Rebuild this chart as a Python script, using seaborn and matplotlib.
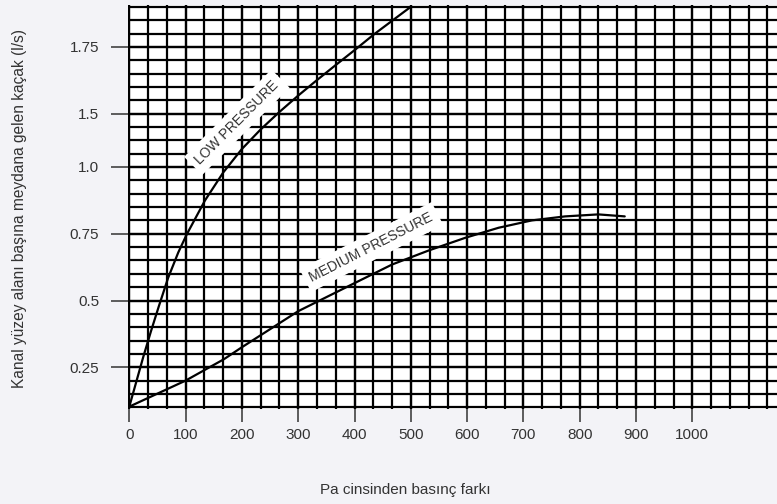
import numpy as np
import pandas as pd
import matplotlib
matplotlib.use("Agg")
import matplotlib.pyplot as plt
import seaborn as sns

# ---- data (x in Pa, y in chart grid-row units) ----
low_x = [0, 13, 25, 38.5, 52.7, 69, 87, 102, 134.5, 167, 200, 233, 266, 300, 333, 367, 400, 435, 473, 500]
low_y = [0.05, 2.0, 3.8, 5.7, 7.6, 9.7, 11.6, 12.95, 15.5, 17.6, 19.35, 20.8, 22.1, 23.35, 24.5, 25.65, 26.75, 27.95, 29.15, 30.0]
med_x = [0, 100, 168, 200, 300, 400, 467, 532, 597, 656, 715, 774, 833, 880]
med_y = [0.05, 2.0, 3.6, 4.5, 7.2, 9.3, 10.7, 11.75, 12.7, 13.45, 14.0, 14.3, 14.45, 14.3]

x_ticks = [0, 100, 200, 300, 400, 500, 600, 700, 800, 900, 1000]
y_tick_pos = [3, 8, 13, 18, 22, 27]
y_tick_labels = ["0.25", "0.5", "0.75", "1.0", "1.5", "1.75"]
series_names = ["LOW PRESSURE", "MEDIUM PRESSURE"]
x_label = "Pa cinsinden basınç farkı"
y_label = "Kanal yüzey alanı başına meydana gelen kaçak (l/s)"

df = pd.concat([
    pd.DataFrame({"x": low_x, "y": low_y, "s": series_names[0]}),
    pd.DataFrame({"x": med_x, "y": med_y, "s": series_names[1]}),
])

sns.set_theme(style="white")
plt.rcParams["font.family"] = ["Liberation Sans", "DejaVu Sans"]

W, H = 777, 504
bg = "#f3f3f7"
txt = "#333333"
fig = plt.figure(figsize=(W / 100, H / 100), dpi=100, facecolor=bg)

x0px, pxu = 129.3, 0.563     # pixel of x=0, pixels per Pa
y0px, pxr = 407.3, 13.35     # pixel of row 0, pixels per row
xlim = (-2, (W - x0px) / pxu)
ylim = (-0.12, 30.12)
left = (x0px + xlim[0] * pxu) / W
bottom = 1 - (y0px - ylim[0] * pxr) / H
top = 1 - (y0px - ylim[1] * pxr) / H
ax = fig.add_axes([left, bottom, 1.0 - left, top - bottom])
ax.set_facecolor("white")

sns.lineplot(data=df, x="x", y="y", units="s", estimator=None, sort=False,
             color="black", lw=1.6, ax=ax, zorder=6)

ax.set_xlim(*xlim)
ax.set_ylim(*ylim)
ax.set_xticks(x_ticks)
ax.set_xticklabels([str(v) for v in x_ticks])
ax.set_yticks(y_tick_pos)
ax.set_yticklabels(y_tick_labels)
ax.set_xticks(np.arange(0, xlim[1], 100 / 3), minor=True)
ax.set_yticks(np.arange(0, 31, 1), minor=True)
ax.xaxis.remove_overlapping_locs = False
ax.yaxis.remove_overlapping_locs = False
ax.grid(which="both", color="black", lw=1.6)
ax.set_axisbelow(True)
for s in ax.spines.values():
    s.set_visible(False)

ax.tick_params(which="minor", length=0)
ax.tick_params(axis="y", which="major", left=True, direction="out", length=12,
               width=1.1, color=txt, pad=9, labelsize=11, labelcolor=txt)
ax.tick_params(axis="x", which="major", bottom=True, direction="out", length=9,
               width=1.1, color=txt, pad=5, labelsize=11, labelcolor=txt)
ax.set_xlabel("")
ax.set_ylabel("")

box = dict(boxstyle="square,pad=0.42", fc="white", ec="none")
ax.text(191, 21.35, series_names[0], rotation=45, rotation_mode="anchor",
        ha="center", va="center", fontsize=10, color=txt, bbox=box, zorder=4)
ax.text(430, 12.0, series_names[1], rotation=27, rotation_mode="anchor",
        ha="center", va="center", fontsize=10, color=txt, bbox=box, zorder=4)

fig.text(20 / W, 1 - 208 / H, y_label, rotation=90, ha="center", va="center",
         fontsize=11.2, color=txt)
fig.text(405 / W, 1 - 490 / H, x_label, ha="center", va="center",
         fontsize=11, color=txt)

fig.savefig("out.png", dpi=100, facecolor=bg)
